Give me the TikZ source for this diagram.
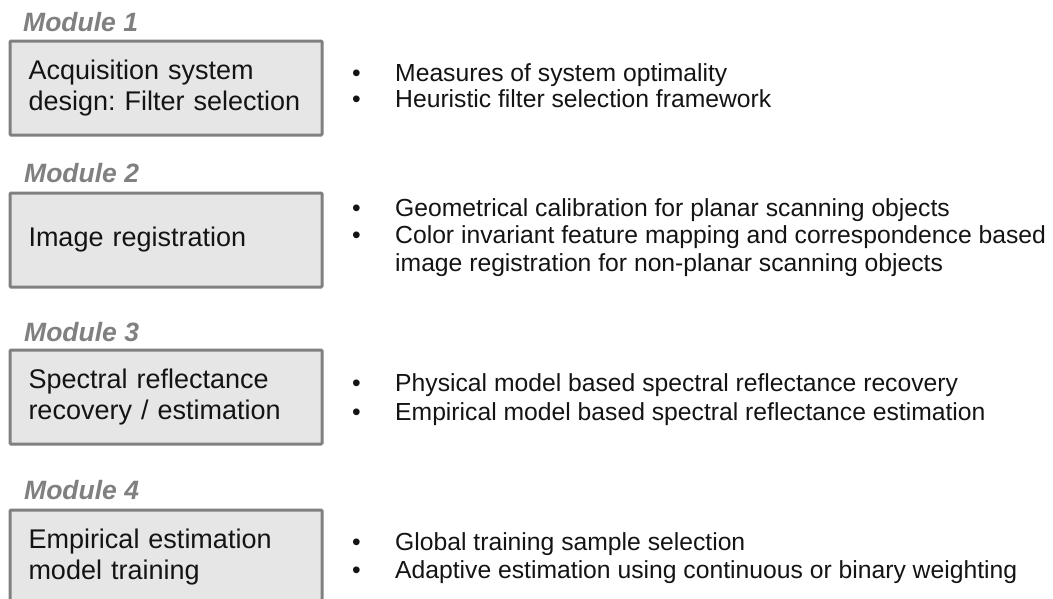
\documentclass[tikz,border=0pt]{standalone}
\usepackage{fontspec}
\setmainfont{Liberation Sans}
\frenchspacing
\definecolor{boxfill}{RGB}{230,230,230}
\definecolor{boxline}{RGB}{128,128,128}
\definecolor{labelgray}{RGB}{128,128,128}
\definecolor{textcol}{RGB}{20,20,20}
\tikzset{
  modbox/.style={draw=boxline, fill=boxfill, line width=3pt, rounded corners=1pt,
    anchor=north west, minimum width=312pt, minimum height=94pt,
    text width=275pt, inner xsep=18.5pt, inner ysep=0pt, align=left,
    font=\fontsize{27}{31}\selectfont, text=textcol},
  modlabel/.style={anchor=base west, inner sep=0pt, text=labelgray,
    font=\fontsize{26.5}{30}\selectfont\bfseries\itshape},
  bullettext/.style={anchor=base west, inner sep=0pt, text=textcol,
    font=\fontsize{24.7}{28}\selectfont},
  bulletdot/.style={anchor=base west, inner sep=0pt, text=textcol,
    font=\fontsize{24.7}{28}\selectfont}
}
\begin{document}
\begin{tikzpicture}[x=1pt,y=1pt]
\useasboundingbox (0,0) rectangle (1053,-598);
\fill[white] (0,0) rectangle (1053,-598);

% Module 1
\node[modlabel] (l1) at (23,-31) {Module 1};
\node[modbox] (b1) at (8.5,-39.5) {Acquisition system\\design: Filter selection};
\node[bulletdot] (d11) at (352,-81.7) {•};
\node[bullettext] (t11) at (395,-81.7) {Measures of system optimality};
\node[bulletdot] (d12) at (352,-107.3) {•};
\node[bullettext] (t12) at (395,-107.3) {Heuristic filter selection framework};

% Module 2
\node[modlabel] (l2) at (24,-182) {Module 2};
\node[modbox] (b2) at (8.5,-191.5) {Image registration};
\node[bulletdot] (d21) at (352,-216) {•};
\node[bullettext] (t21) at (395,-216) {Geometrical calibration for planar scanning objects};
\node[bulletdot] (d22) at (352,-243) {•};
\node[bullettext] (t22) at (395,-243) {Color invariant feature mapping and correspondence based};
\node[bullettext] (t23) at (395,-271) {image registration for non-planar scanning objects};

% Module 3
\node[modlabel] (l3) at (24,-341) {Module 3};
\node[modbox] (b3) at (8.5,-348.5) {Spectral reflectance\\recovery / estimation};
\node[bulletdot] (d31) at (352,-391.7) {•};
\node[bullettext] (t31) at (395,-391.7) {Physical model based spectral reflectance recovery};
\node[bulletdot] (d32) at (352,-420) {•};
\node[bullettext] (t32) at (395,-420) {Empirical model based spectral reflectance estimation};

% Module 4
\node[modlabel] (l4) at (24,-499) {Module 4};
\node[modbox] (b4) at (8.5,-508.5) {Empirical estimation\\model training};
\node[bulletdot] (d41) at (352,-550) {•};
\node[bullettext] (t41) at (395,-550) {Global training sample selection};
\node[bulletdot] (d42) at (352,-578) {•};
\node[bullettext] (t42) at (395,-578) {Adaptive estimation using continuous or binary weighting};
\end{tikzpicture}
\end{document}
